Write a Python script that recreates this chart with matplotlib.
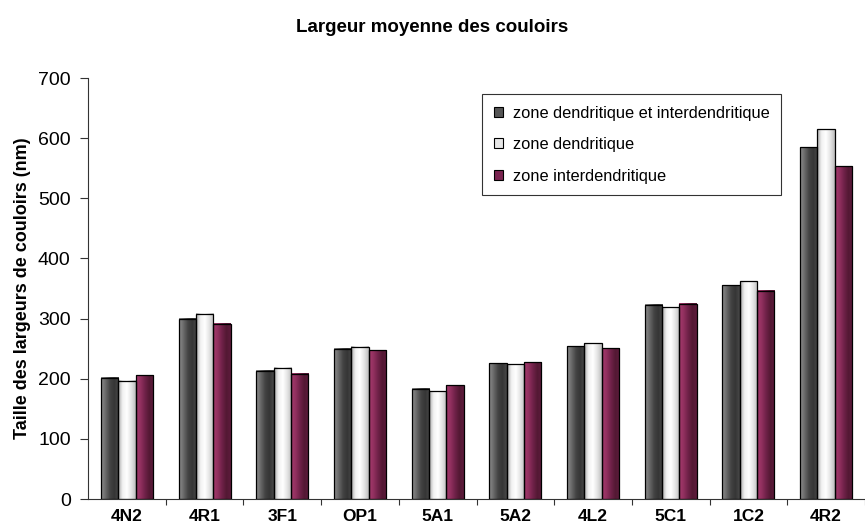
import numpy as np
import matplotlib
matplotlib.use("Agg")
import matplotlib.pyplot as plt
from matplotlib.colors import LinearSegmentedColormap
from matplotlib.patches import Patch

plt.rcParams['font.family'] = ['Liberation Sans', 'DejaVu Sans']

categories = ["4N2", "4R1", "3F1", "OP1", "5A1", "5A2", "4L2", "5C1", "1C2", "4R2"]
series_names = ["zone dendritique et interdendritique",
                "zone dendritique",
                "zone interdendritique"]
both_zones = [202, 300, 213, 250, 183, 226, 254, 323, 355, 585]
dendritic = [197, 308, 218, 253, 179, 224, 259, 319, 362, 615]
interdendritic = [206, 291, 208, 247, 189, 227, 251, 325, 346, 553]
y_ticks = [0, 100, 200, 300, 400, 500, 600, 700]

# horizontal shading for each series (Excel-like cylinder look)
shades = [
    LinearSegmentedColormap.from_list("dark", ["#8c8c8c", "#6a6a6a", "#444444", "#353535", "#4a4a4a"]),
    LinearSegmentedColormap.from_list("light", ["#a8a8a8", "#f2f2f2", "#ffffff", "#e4e4e4", "#bdbdbd"]),
    LinearSegmentedColormap.from_list("purple", ["#a63c6e", "#92305f", "#702249", "#531833", "#5e1c3c"]),
]
legend_colors = ["#555555", "#e6e6e6", "#7a2450"]

fig = plt.figure(figsize=(8.65, 5.27), dpi=100)
ax = fig.add_axes([88 / 865, 28 / 527, (865 - 88) / 865, (499 - 78) / 527])

x = np.arange(len(categories))
w = 0.223
grad = np.linspace(0, 1, 64).reshape(1, -1)
for i, vals in enumerate([both_zones, dendritic, interdendritic]):
    bars = ax.bar(x + (i - 1) * w, vals, width=w, facecolor="none",
                  edgecolor="black", linewidth=0.9, zorder=3)
    for b in bars:
        x0 = b.get_x()
        ax.imshow(grad, cmap=shades[i], aspect="auto", origin="lower",
                  extent=(x0, x0 + b.get_width(), 0, b.get_height()),
                  zorder=2, interpolation="bilinear")

ax.set_xlim(-0.5, len(categories) - 0.5)
ax.set_ylim(0, 700)
ax.set_yticks(y_ticks)
ax.set_yticklabels([str(t) for t in y_ticks], fontsize=14)
ax.tick_params(axis="y", direction="out", length=6, width=0.8, pad=6.5, colors="#333333",
               labelcolor="black")

ax.set_xticks(x)
ax.set_xticklabels(categories, fontsize=12.5, fontweight="bold")
ax.tick_params(axis="x", length=0, pad=7)
ax.set_xticks(np.arange(len(categories)) + 0.5, minor=True)
ax.tick_params(axis="x", which="minor", direction="out", length=4, width=0.8, colors="#333333")

for side in ("top", "right"):
    ax.spines[side].set_visible(False)
for side in ("left", "bottom"):
    ax.spines[side].set_color("#333333")
    ax.spines[side].set_linewidth(0.8)

ax.set_ylabel("Taille des largeurs de couloirs (nm)", fontsize=13, fontweight="bold",
              labelpad=5)
fig.text(0.5, 1 - 28 / 527, "Largeur moyenne des couloirs", ha="center", va="center",
         fontsize=13.5, fontweight="bold")

handles = [Patch(facecolor=c, edgecolor="black", linewidth=0.8) for c in legend_colors]
leg = ax.legend(handles, series_names, loc="upper left",
                bbox_to_anchor=((482 - 88) / 777, 1 - (94 - 78) / 421),
                fontsize=11.8, frameon=True, fancybox=False, edgecolor="black",
                handlelength=0.55, handleheight=0.55, handletextpad=0.6,
                labelspacing=1.0, borderpad=0.72, borderaxespad=0)
leg.get_frame().set_linewidth(0.8)

fig.savefig("out.png", dpi=100)
